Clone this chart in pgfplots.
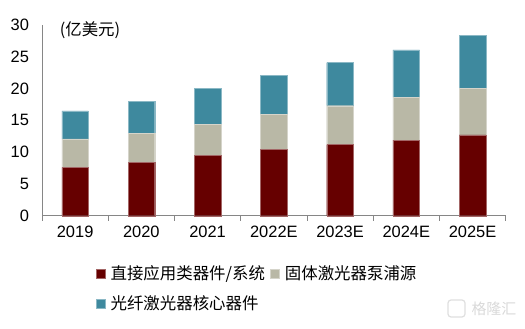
\documentclass[border=0pt]{standalone}
\usepackage{pgfplots}
\pgfplotsset{compat=1.18}
\usepackage{fontspec}
\setmainfont{Liberation Sans}
\newfontfamily\cjk{Noto Sans CJK SC}
\definecolor{cRed}{RGB}{102,0,0}
\definecolor{cGray}{RGB}{185,184,166}
\definecolor{cTeal}{RGB}{62,137,158}
\definecolor{axGray}{RGB}{134,134,134}
\begin{document}
\begin{tikzpicture}
\path[use as bounding box] (0,0) rectangle (525bp,329bp);
\begin{axis}[
 at={(42bp,113.3bp)}, anchor=south west,
 scale only axis, width=463.7bp, height=190.7bp,
 xmin=-0.5, xmax=6.5, ymin=0, ymax=30,
 ybar stacked, bar width=26.7bp,
 xtick={0,...,6}, xticklabels={2019,2020,2021,2022E,2023E,2024E,2025E},
 minor xtick={-0.5,0.5,...,6.5},
 ytick={0,5,...,30},
 axis x line*=bottom, axis y line*=left,
 axis line style={axGray, line width=0.8bp, -},
 major tick length=0pt, minor tick length=5bp,
 tick align=outside,
 minor tick style={axGray, line width=0.8bp},
 tick label style={font=\fontsize{16.5}{19}\selectfont, /pgf/number format/assume math mode=true},
 xticklabel style={yshift=-6.5bp},
 yticklabel style={xshift=-9.5bp},
 legend style={at={(axis description cs:0.1165,-0.25)}, anchor=north west, draw=none, fill=none,
   font=\cjk\fontsize{16.5}{19}\selectfont, legend columns=2, column sep=3.5bp, row sep=11bp, inner sep=0pt},
 legend cell align=left,
 legend image code/.code={\fill[#1] (0bp,-4.5bp) rectangle (8.5bp,4bp);},
 clip=false,
]
\addplot[fill=cRed, draw=cRed!60!white, line width=0.4bp] coordinates {(0,7.6) (1,8.4) (2,9.5) (3,10.4) (4,11.2) (5,11.9) (6,12.7)};
\addlegendentry{直接应用类器件/系统}
\addplot[fill=cGray, draw=cGray!60!white, line width=0.4bp] coordinates {(0,4.5) (1,4.6) (2,4.9) (3,5.5) (4,6.1) (5,6.7) (6,7.3)};
\addlegendentry{固体激光器泵浦源}
\addplot[fill=cTeal, draw=cTeal!60!white, line width=0.4bp] coordinates {(0,4.4) (1,5.0) (2,5.6) (3,6.2) (4,6.8) (5,7.5) (6,8.4)};
\addlegendentry{光纤激光器核心器件}
\node[font=\cjk\fontsize{16.5}{19}\selectfont] at (axis description cs:0.1035,0.974) {(亿美元)};
\end{axis}
\draw[gray!25, line width=1.2bp, rounded corners=3bp] (448bp,12bp) rectangle (465bp,29bp);
\node[text=gray!30, font=\cjk\fontsize{15}{15}\selectfont, anchor=west] at (468bp,20.5bp) {格隆汇};
\end{tikzpicture}
\end{document}
